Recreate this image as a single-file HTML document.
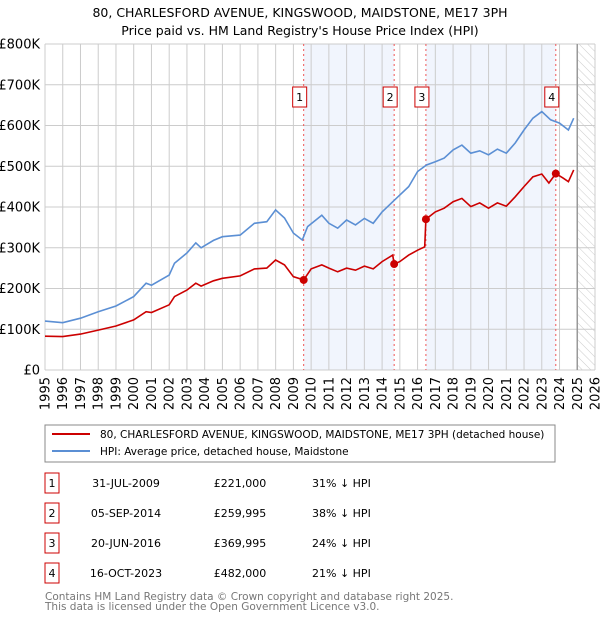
<!DOCTYPE html>
<html><head><meta charset="utf-8"><style>
body{margin:0;background:#fff;font-family:"DejaVu Sans","Liberation Sans",sans-serif;}
svg text{font-family:"DejaVu Sans","Liberation Sans",sans-serif;}
</style></head><body>
<svg id="c" width="600" height="620" xmlns="http://www.w3.org/2000/svg">
<defs><pattern id="hatch" width="6" height="6" patternUnits="userSpaceOnUse" patternTransform="rotate(-45)"><line x1="0" y1="0" x2="0" y2="6" stroke="#ccc" stroke-width="1"/></pattern></defs>
<text x="300" y="17" text-anchor="middle" font-size="12.5" fill="#000">80, CHARLESFORD AVENUE, KINGSWOOD, MAIDSTONE, ME17 3PH</text>
<text x="300" y="35" text-anchor="middle" font-size="12.5" fill="#000">Price paid vs. HM Land Registry's House Price Index (HPI)</text>
<g id="plot"></g>
<g>
<rect x="45" y="425" width="510" height="37" fill="#fff" stroke="#888"/>
<line x1="52" y1="434" x2="90" y2="434" stroke="#cc0000" stroke-width="2"/>
<text x="100" y="438" font-size="10.5">80, CHARLESFORD AVENUE, KINGSWOOD, MAIDSTONE, ME17 3PH (detached house)</text>
<line x1="52" y1="451" x2="90" y2="451" stroke="#5b8fd4" stroke-width="2"/>
<text x="100" y="455" font-size="10.5">HPI: Average price, detached house, Maidstone</text>
</g>
<g id="table" font-size="11"></g>
<text x="45" y="600" font-size="10.5" fill="#777">Contains HM Land Registry data © Crown copyright and database right 2025.</text>
<text x="45" y="610" font-size="10.5" fill="#777">This data is licensed under the Open Government Licence v3.0.</text>
</svg>
<script>
const hpiYears=[1995,1996,1997,1998,1999,2000,2000.7,2001,2002,2002.3,2003,2003.5,2003.8,2004.5,2005,2006,2006.8,2007.5,2008,2008.5,2009,2009.5,2009.8,2010.6,2011,2011.5,2012,2012.5,2013,2013.5,2014,2014.7,2015.5,2016,2016.5,2017,2017.5,2018,2018.5,2019,2019.5,2020,2020.5,2021,2021.5,2022,2022.5,2023,2023.5,2024,2024.5,2024.8];
const hpiValues=[120,116,127,143,157,180,213,208,233,262,287,312,300,318,327,331,360,364,393,373,336,319,352,380,360,348,368,356,372,360,388,417,450,487,503,511,520,540,552,532,538,528,542,532,557,589,618,634,614,606,589,618];
const propYears=[1995,1996,1997,1998,1999,2000,2000.7,2001,2002,2002.3,2003,2003.5,2003.8,2004.5,2005,2006,2006.8,2007.5,2008,2008.5,2009,2009.58,2010,2010.6,2011,2011.5,2012,2012.5,2013,2013.5,2014,2014.6,2014.68,2015,2015.5,2016,2016.4,2016.47,2017,2017.5,2018,2018.5,2019,2019.5,2020,2020.5,2021,2021.5,2022,2022.5,2023,2023.4,2023.79,2024.2,2024.5,2024.8];
const propValues=[83,82,88,98,108,123,143,141,160,180,196,213,206,219,225,231,248,250,270,258,229,221,248,258,250,241,250,245,255,248,266,282,260,266,282,294,302,370,388,397,413,421,401,410,397,410,402,425,450,474,481,459,482,471,462,491];
const saleLabels=["1","2","3","4"];
const saleYears=[2009.58,2014.68,2016.47,2023.79];
const saleValues=[221,259.995,369.995,482];
const saleDates=["31-JUL-2009","05-SEP-2014","20-JUN-2016","16-OCT-2023"];
const salePrices=["£221,000","£259,995","£369,995","£482,000"];
const saleDiffs=["31% ↓ HPI","38% ↓ HPI","24% ↓ HPI","21% ↓ HPI"];
const yTicks=[0,100,200,300,400,500,600,700,800];
const yTickLabels=["£0","£100K","£200K","£300K","£400K","£500K","£600K","£700K","£800K"];
const xTicks=[1995,1996,1997,1998,1999,2000,2001,2002,2003,2004,2005,2006,2007,2008,2009,2010,2011,2012,2013,2014,2015,2016,2017,2018,2019,2020,2021,2022,2023,2024,2025,2026];
const forecastStart=2025.0;

const NS="http://www.w3.org/2000/svg";
const L=45,R=595,T=44,B=370,X0=1995,X1=2026,Y1=800;
const xs=v=>L+(v-X0)/(X1-X0)*(R-L);
const ys=v=>B-v/Y1*(B-T);
const g=document.getElementById('plot');
function mk(tag,at,parent){const e=document.createElementNS(NS,tag);for(const k in at)e.setAttribute(k,at[k]);(parent||g).appendChild(e);return e;}
for(let i=0;i<saleYears.length;i+=2){
 const r=mk('rect',{x:xs(saleYears[i]),y:T,width:xs(saleYears[i+1])-xs(saleYears[i]),height:B-T,fill:'#eef3fd',opacity:0.8});
 
 
}
const hr=mk('rect',{x:xs(forecastStart),y:T,width:R-xs(forecastStart),height:B-T,fill:'url(#hatch)'});


xTicks.forEach(t=>{
 const l=mk('line',{x1:xs(t),x2:xs(t),y1:T,y2:B,stroke:'#cccccc','stroke-width':1});
 
 
 const tx=mk('text',{x:0,y:0,'font-size':13,'text-anchor':'end',transform:`translate(${xs(t)+4.5},${B+7}) rotate(-90)`});
 tx.textContent=t;
 
 
});
yTicks.forEach((t,i)=>{
 const l=mk('line',{x1:L,x2:R,y1:ys(t),y2:ys(t),stroke:'#cccccc','stroke-width':1});
 
 
 const tx=mk('text',{x:L-5,y:ys(t)+4.5,'font-size':13,'text-anchor':'end'});
 tx.textContent=yTickLabels[i];
 
 
});
const fl=mk('line',{x1:xs(forecastStart),x2:xs(forecastStart),y1:T,y2:B,stroke:'#999','stroke-width':1.5});


saleYears.forEach((s,i)=>{
 const l=mk('line',{x1:xs(s),x2:xs(s),y1:T,y2:B,stroke:'#ee5555','stroke-width':1,'stroke-dasharray':'2,3'});
 
 
 const bx=mk('rect',{x:xs(s)-11,y:87,width:14,height:20,fill:'#fff',stroke:'#cc0000','stroke-width':1});
 
 
 const tx=mk('text',{x:xs(s)-4,y:101,'font-size':11,'text-anchor':'middle'});
 tx.textContent=saleLabels[i];
 
 
});
const pts=(xa,va)=>xa.map((x,i)=>xs(x).toFixed(1)+','+ys(va[i]).toFixed(1)).join(' ');
const hl=mk('polyline',{points:pts(hpiYears,hpiValues),fill:'none',stroke:'#5b8fd4','stroke-width':1.6});


const pl=mk('polyline',{points:pts(propYears,propValues),fill:'none',stroke:'#cc0000','stroke-width':1.6});


saleYears.forEach((s,i)=>{
 const c=mk('circle',{cx:xs(s),cy:ys(saleValues[i]),r:4,fill:'#cc0000'});
 
 
});
const tb=document.getElementById('table');
saleLabels.forEach((lab,i)=>{
 const cy=483+i*30;
 const bx=mk('rect',{x:45,y:cy-10,width:14,height:20,fill:'#fff',stroke:'#cc0000'},tb);
 
 
 const vals=[[52,lab,'middle'],[126,saleDates[i],'middle'],[240,salePrices[i],'middle'],[312,saleDiffs[i],'start']];
 vals.forEach(v=>{
  const t=mk('text',{x:v[0],y:cy+4,'text-anchor':v[2]},tb);
  t.textContent=v[1];
  
  
 });
});
</script>
</body></html>
